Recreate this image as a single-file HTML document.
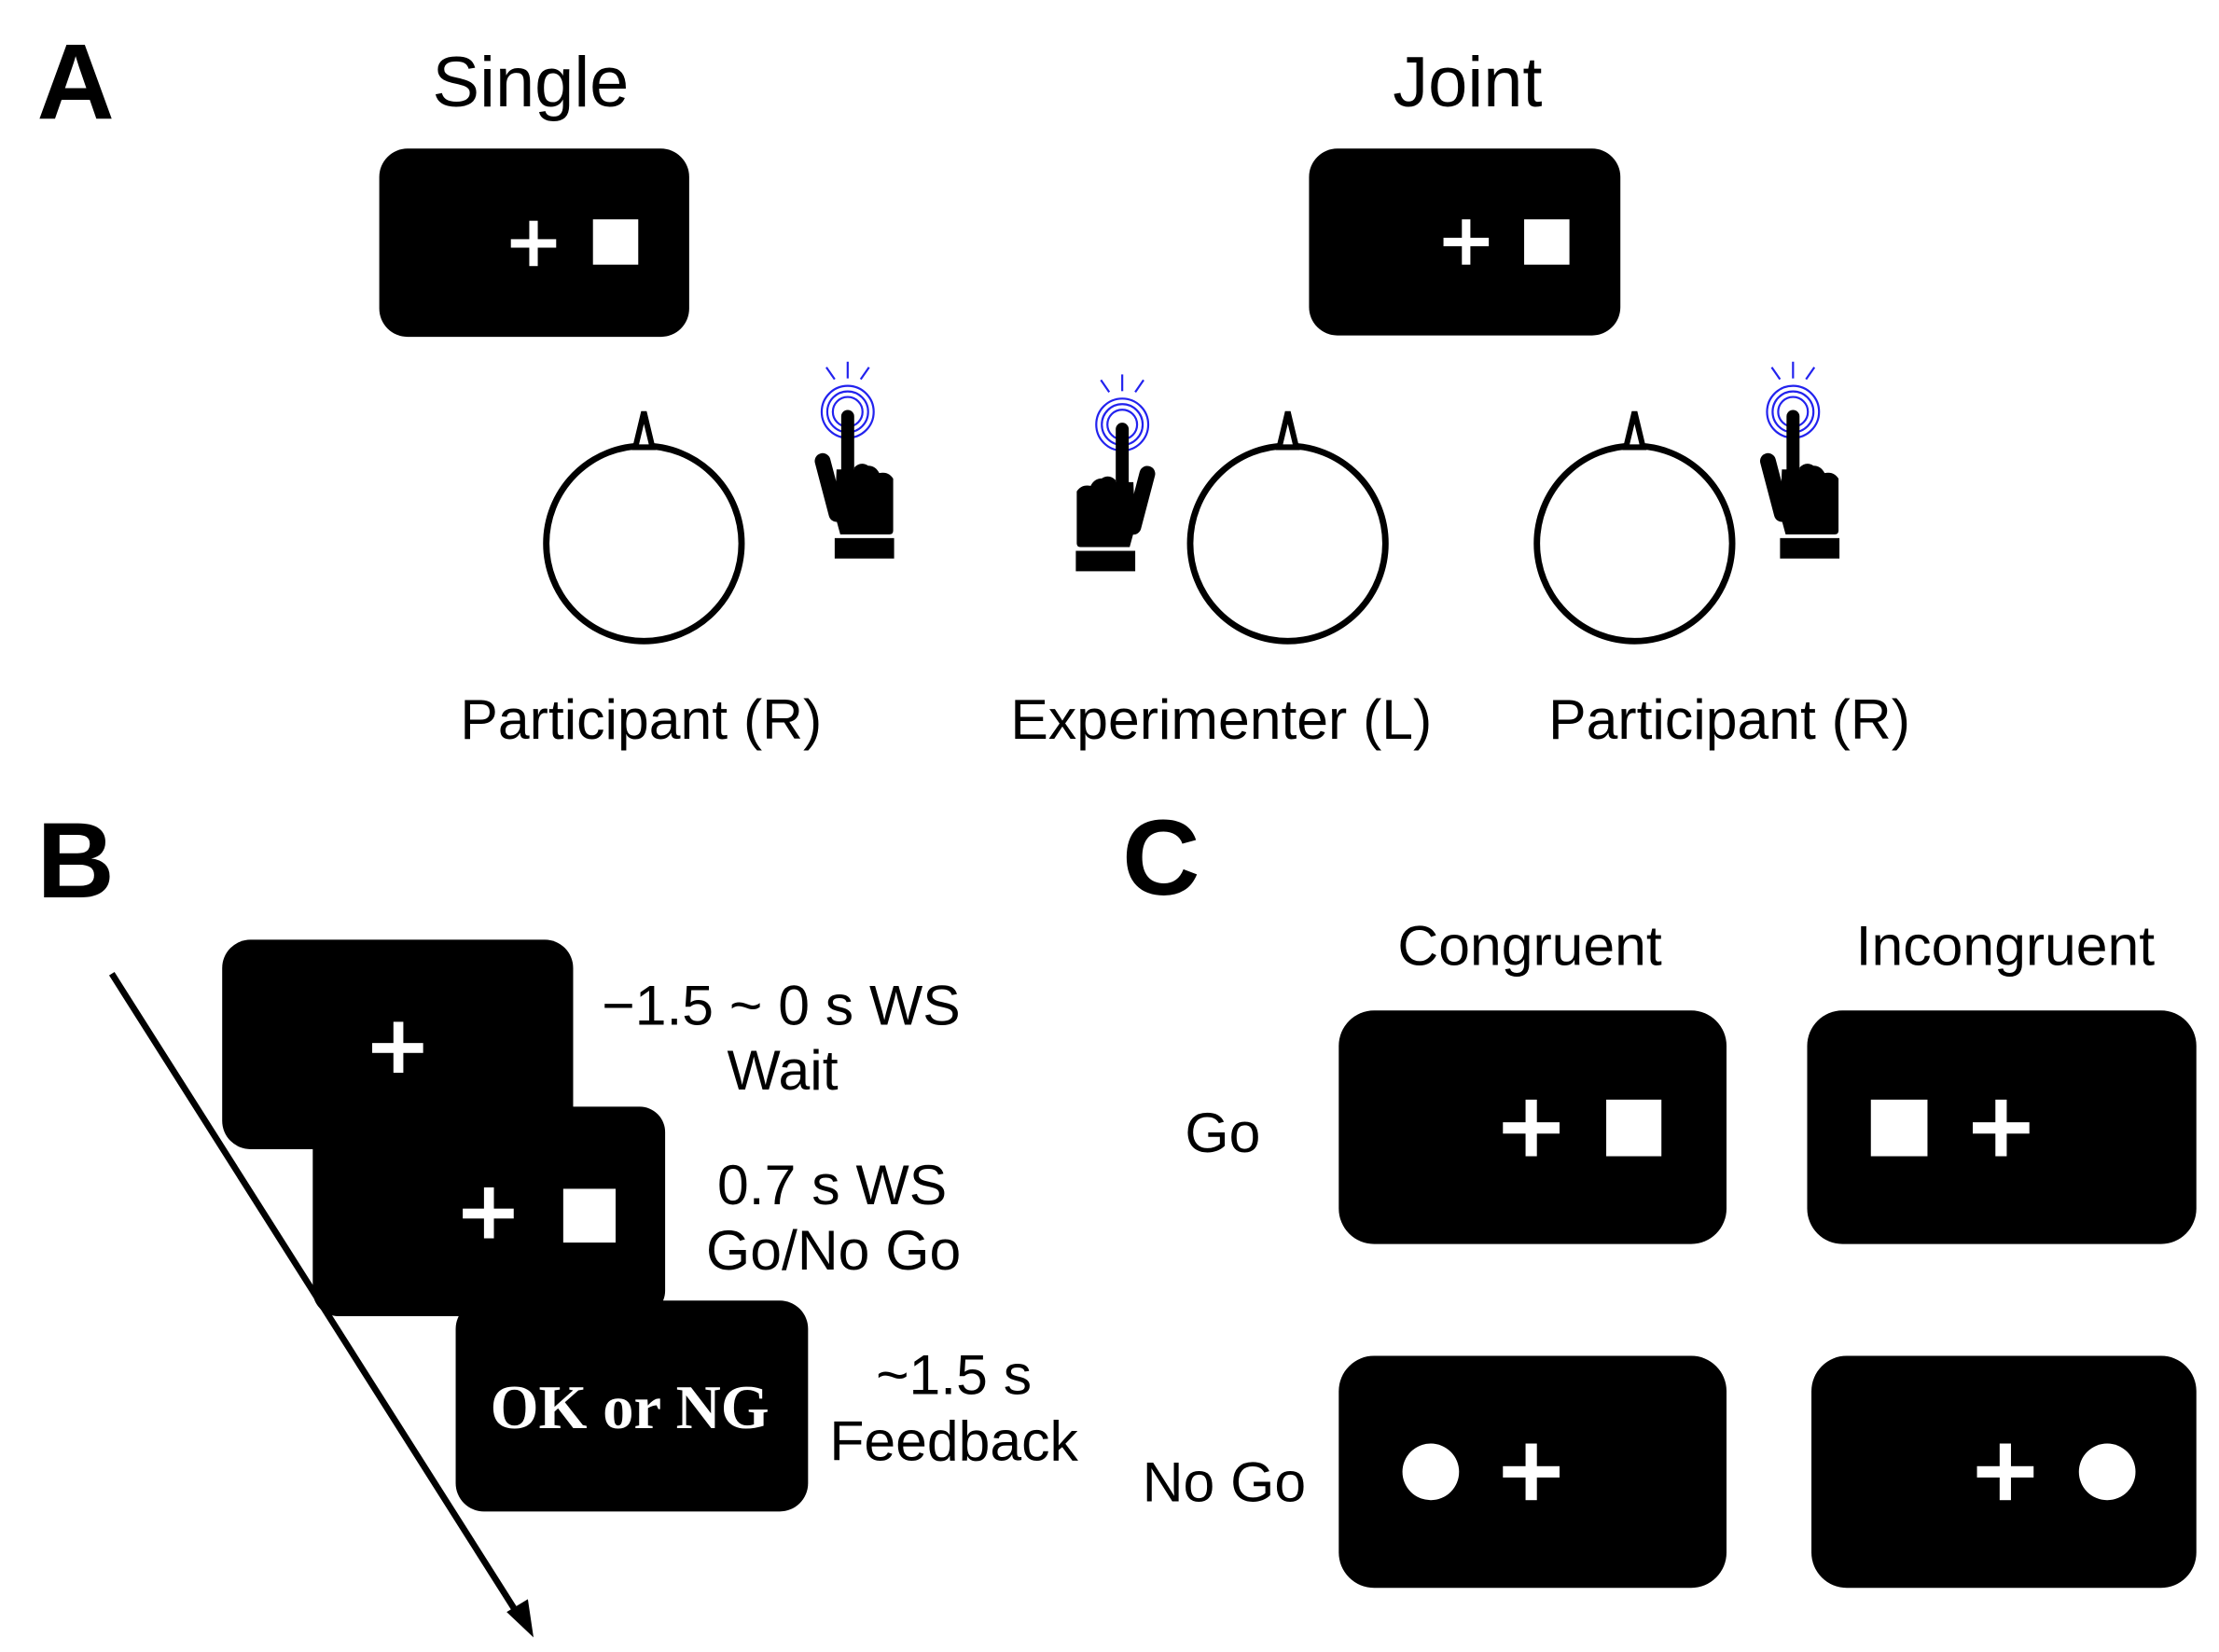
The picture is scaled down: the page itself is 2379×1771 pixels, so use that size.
<!DOCTYPE html>
<html><head><meta charset="utf-8"><style>
html,body{margin:0;padding:0;background:#fff;}
svg{display:block;}
text{font-family:"Liberation Sans",sans-serif;fill:#000;}
</style></head><body>
<svg width="2379" height="1771" viewBox="0 0 1568 1167.3" preserveAspectRatio="none" xmlns="http://www.w3.org/2000/svg">
<defs>
<g id="hand" transform="scale(0.656)">
  <g fill="none" stroke="#2222ee" stroke-width="2.2">
    <circle r="28"/><circle r="22"/><circle r="16"/>
    <line x1="0" y1="-54" x2="0" y2="-36"/>
    <line x1="-23" y1="-48" x2="-14" y2="-35"/>
    <line x1="23" y1="-48" x2="14" y2="-35"/>
  </g>
  <rect x="-7" y="-2" width="14" height="80" rx="7" fill="#000"/>
  <line x1="-27" y1="53" x2="-12" y2="110" stroke="#000" stroke-width="17" stroke-linecap="round"/>
  <path d="M-12 62 L7 62 L7 60 Q14 53 22 58 Q30 58 34 66 Q44 64 49 72 L49 128 Q49 132 45 132 L-8 132 L-14 110 Z" fill="#000"/>
  <rect x="-14" y="136" width="64" height="22" fill="#000"/>
</g>
</defs>

<!-- A -->
<text x="26" y="84" font-size="76" font-weight="bold">A</text>
<text x="375" y="75" font-size="50" text-anchor="middle">Single</text>
<text x="1037" y="75" font-size="50" text-anchor="middle">Joint</text>

<rect x="268" y="105" width="219" height="133" rx="20" fill="#000"/>
<rect x="361" y="169" width="32" height="6" fill="#fff"/><rect x="374" y="156" width="6" height="32" fill="#fff"/>
<rect x="419" y="155" width="32" height="32" fill="#fff"/>

<rect x="925" y="105" width="220" height="132" rx="20" fill="#000"/>
<rect x="1020" y="168" width="32" height="6" fill="#fff"/><rect x="1033" y="155" width="6" height="32" fill="#fff"/>
<rect x="1077" y="155" width="32" height="32" fill="#fff"/>

<g fill="none" stroke="#000" stroke-width="4.5">
  <circle cx="455" cy="384" r="69"/>
  <circle cx="910" cy="384" r="69"/>
  <circle cx="1155" cy="384" r="69"/>
</g>
<g fill="#fff" stroke="#000" stroke-width="4" stroke-linejoin="miter">
  <path d="M449 316 L455 291 L461 316 Z"/>
  <path d="M904 316 L910 291 L916 316 Z"/>
  <path d="M1149 316 L1155 291 L1161 316 Z"/>
</g>

<use href="#hand" transform="translate(599,291)"/>
<use href="#hand" transform="translate(793,300) scale(-1,1)"/>
<use href="#hand" transform="translate(1267,291)"/>

<text x="453" y="522" font-size="40" text-anchor="middle">Participant (R)</text>
<text x="863" y="522" font-size="40" text-anchor="middle">Experimenter (L)</text>
<text x="1222" y="522" font-size="40" text-anchor="middle">Participant (R)</text>

<!-- B -->
<text x="26" y="634" font-size="76" font-weight="bold">B</text>
<rect x="157" y="664" width="248" height="148" rx="20" fill="#000"/>
<rect x="263" y="737" width="36" height="7" fill="#fff"/><rect x="278" y="722" width="7" height="36" fill="#fff"/>
<rect x="221" y="782" width="249" height="148" rx="18" fill="#000"/>
<rect x="327" y="854" width="36" height="7" fill="#fff"/><rect x="342" y="839" width="7" height="36" fill="#fff"/>
<rect x="398" y="840" width="37" height="38" fill="#fff"/>
<rect x="322" y="919" width="249" height="149" rx="20" fill="#000"/>
<text x="445" y="1009" font-size="44" font-weight="bold" text-anchor="middle" style="font-family:'Liberation Serif',serif;fill:#fff">OK or NG</text>

<line x1="79" y1="688" x2="368" y2="1144" stroke="#000" stroke-width="4.5"/>
<path d="M377 1157 L358 1139 L373 1130 Z" fill="#000"/>

<text x="552" y="724" font-size="40" text-anchor="middle">−1.5 ~ 0 s WS</text>
<text x="553" y="770" font-size="40" text-anchor="middle">Wait</text>
<text x="588" y="851" font-size="40" text-anchor="middle">0.7 s WS</text>
<text x="589" y="897" font-size="40" text-anchor="middle">Go/No Go</text>
<text x="674" y="985" font-size="40" text-anchor="middle">~1.5 s</text>
<text x="674" y="1032" font-size="40" text-anchor="middle">Feedback</text>

<!-- C -->
<text x="793" y="632" font-size="76" font-weight="bold">C</text>
<text x="1081" y="682" font-size="40" text-anchor="middle">Congruent</text>
<text x="1417" y="682" font-size="40" text-anchor="middle">Incongruent</text>
<text x="864" y="814" font-size="40" text-anchor="middle">Go</text>
<text x="865" y="1061" font-size="40" text-anchor="middle">No Go</text>

<rect x="946" y="714" width="274" height="165" rx="25" fill="#000"/>
<rect x="1277" y="714" width="275" height="165" rx="25" fill="#000"/>
<rect x="946" y="958" width="274" height="164" rx="25" fill="#000"/>
<rect x="1280" y="958" width="272" height="164" rx="25" fill="#000"/>

<g fill="#fff">
  <rect x="1062" y="793" width="40" height="8"/><rect x="1078" y="777" width="8" height="40"/>
  <rect x="1135" y="777" width="39" height="40"/>
  <rect x="1322" y="777" width="40" height="40"/>
  <rect x="1394" y="793" width="40" height="8"/><rect x="1410" y="777" width="8" height="40"/>
  <circle cx="1011" cy="1040" r="20"/>
  <rect x="1062" y="1036" width="40" height="8"/><rect x="1078" y="1020" width="8" height="40"/>
  <rect x="1397" y="1036" width="40" height="8"/><rect x="1413" y="1020" width="8" height="40"/>
  <circle cx="1489" cy="1040" r="20"/>
</g>
</svg>
</body></html>
